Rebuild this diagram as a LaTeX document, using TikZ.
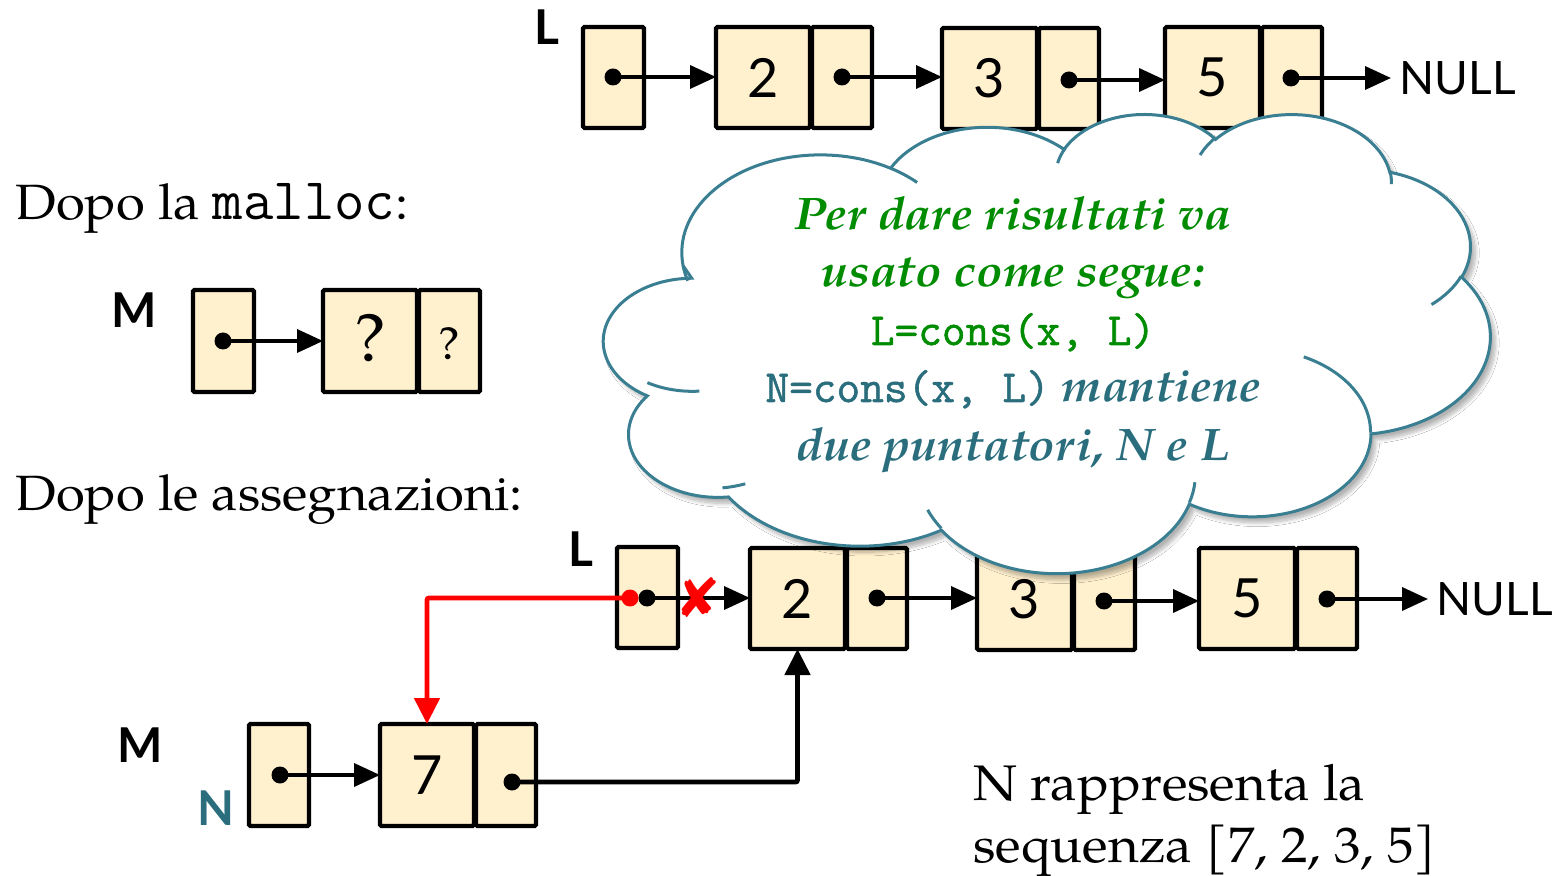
\documentclass[tikz,border=0pt]{standalone}
\usepackage{fontspec}
\setmainfont{TeX Gyre Pagella}[FakeStretch=1.06]
\newfontfamily\labfont{Lato}
\newfontfamily\symfont{DejaVu Sans}
\newfontfamily\cloudtt{Latin Modern Mono}[FakeBold=1.2]
\usetikzlibrary{arrows.meta,shadows.blur}

\definecolor{cream}{RGB}{255,240,206}
\definecolor{cloudline}{RGB}{58,126,146}
\definecolor{tealtext}{RGB}{42,110,126}
\definecolor{greentext}{RGB}{0,140,0}

% elliptical arc given as in DrawingML: radii, start angle and sweep measured
% as visual angles; converted here to the parametric angles TikZ expects
\newcommand\cloudcalc[4]{%
  \pgfmathsetmacro\ca{#1}\pgfmathsetmacro\cb{#2}%
  \pgfmathsetmacro\tA{atan2(\ca*sin(#3),\cb*cos(#3))}%
  \pgfmathsetmacro\tB{atan2(\ca*sin(#3+#4),\cb*cos(#3+#4))}%
  \pgfmathsetmacro\tD{#4+mod(\tB-\tA-#4+900,360)-180}%
  \global\let\gca\ca\global\let\gcb\cb\global\let\gtA\tA\global\let\gtD\tD}
\newcommand\carc[4]{\pgfextra{\cloudcalc{#1}{#2}{#3}{#4}} arc[start angle=\gtA, delta angle=\gtD, x radius=\gca, y radius=\gcb]}

% one cell of a list box: name, x1, y1, x2, y2, content
\newcommand\cell[6]{\node[cellbox, minimum width={(#4-#2)*0.5pt-1pt}, minimum height={(#5-#3)*0.5pt-1pt}] (#1) at ({(#2+#4)/2},{(#3+#5)/2}) {#6};}

\newcommand\cloudcodefont{\fontsize{23pt}{27pt}\selectfont\upshape\mdseries\cloudtt}

\tikzset{
  cellbox/.style={draw, line width=2.2pt, fill=cream, rounded corners=0.8pt, inner sep=0pt, outer sep=0pt,
    font=\labfont\fontsize{27pt}{30pt}\selectfont},
  ptrdot/.style={circle, fill=black, inner sep=0pt, minimum size=8.5pt},
  link/.style={line width=1.8pt, -{Triangle[length=13pt,width=11.5pt]}},
  bentlink/.style={line width=2.4pt, rounded corners=1pt, -{Triangle[length=13pt,width=12.5pt]}},
  varlabel/.style={font=\labfont\bfseries\fontsize{24pt}{28pt}\selectfont, inner sep=0pt},
  nulltext/.style={font=\labfont\fontsize{23pt}{27pt}\selectfont, inner sep=0pt, anchor=west},
  prose/.style={font=\fontsize{24.8pt}{29pt}\selectfont, inner sep=0pt, anchor=base west},
  prosebig/.style={font=\fontsize{25pt}{30pt}\selectfont, inner sep=0pt, anchor=base west},
  cloudtext/.style={inner sep=0pt, anchor=base, font=\fontsize{22.8pt}{27pt}\selectfont\bfseries\itshape},
  cloudshape/.style={line width=1.5pt, draw=cloudline, fill=white,
    blur shadow={shadow xshift=2.5pt, shadow yshift=-3pt, shadow blur steps=10, shadow opacity=30}},
  cloudinner/.style={line width=1.5pt, draw=cloudline},
}

\begin{document}
\begin{tikzpicture}[x=0.5pt,y=-0.5pt]
\useasboundingbox (0,0) rectangle (1567,876);
\fill[white] (0,0) rectangle (1567,876);

% ---------- list L (top) ----------
\cell{cLa}{582}{26}{645}{129}{}
\cell{c2av}{715}{26}{811}{129}{2}
\cell{c2ap}{811}{26}{873}{129}{}
\cell{c3av}{941}{27}{1038}{130}{3}
\cell{c3ap}{1038}{27}{1100}{130}{}
\cell{c5av}{1164}{26}{1261}{129}{5}
\cell{c5ap}{1261}{26}{1323}{129}{}
\node[varlabel] (labLa) at (547,27) {L};
\node[nulltext] (nullA) at (1399,78) {NULL};
\node[ptrdot] (dLa) at (613,77) {};
\node[ptrdot] (d2a) at (842,77) {};
\node[ptrdot] (d3a) at (1069,80) {};
\node[ptrdot] (d5a) at (1291,78) {};
\draw[link] (dLa.center) -- (dLa -| c2av.west);
\draw[link] (d2a.center) -- (d2a -| c3av.west);
\draw[link] (d3a.center) -- (d3a -| c5av.west);
\draw[link] (d5a.center) -- ([xshift=-4pt]nullA.west |- d5a);

% ---------- after malloc ----------
\node[prose] (txtMalloc) at (15,220) {Dopo la {\fontsize{29.5pt}{31pt}\selectfont\ttfamily malloc}:};
\node[varlabel] (labMa) at (134,310) {M};
\cell{cMa}{192}{289}{255}{393}{}
\cell{cQv}{322}{289}{418}{393}{}
\cell{cQp}{418}{289}{481}{393}{}
\node[inner sep=0pt, font=\fontsize{34pt}{38pt}\selectfont] (q1) at (370,338) {?};
\node[inner sep=0pt, font=\fontsize{23pt}{27pt}\selectfont] (q2) at (449,344) {?};
\node[ptrdot] (dM) at (223,341) {};
\draw[link] (dM.center) -- (dM -| cQv.west);

% ---------- after the assignments ----------
\node[prose] (txtAssign) at (15,510) {Dopo le assegnazioni:};

\cell{cLb}{616}{546}{679}{649}{}
\cell{c2bv}{749}{547}{846}{650}{2}
\cell{c2bp}{846}{547}{908}{650}{}
\cell{c3bv}{976}{547}{1073}{651}{3}
\cell{c3bp}{1073}{547}{1136}{651}{}
\cell{c5bv}{1198}{547}{1296}{650}{5}
\cell{c5bp}{1296}{547}{1358}{650}{}
\node[varlabel] (labLb) at (581,549) {L};
\node[nulltext] (nullB) at (1436,599) {NULL};

\node[varlabel] (labMb) at (140,745) {M};
\node[varlabel, text=tealtext] (labN) at (216,808) {N};
\cell{cN}{248}{723}{310}{827}{}
\cell{c7v}{379}{723}{475}{827}{7}
\cell{c7p}{475}{723}{537}{827}{}

\node[ptrdot] (dLb) at (647,598) {};
\node[ptrdot] (d2b) at (877,598) {};
\node[ptrdot] (d3b) at (1104,601) {};
\node[ptrdot] (d5b) at (1327,599) {};
\node[ptrdot] (dN) at (280,775) {};
\node[ptrdot] (d7) at (512,782) {};
\draw[link] (dLb.center) -- (dLb -| c2bv.west);
\draw[link] (d2b.center) -- (d2b -| c3bv.west);
\draw[link] (d3b.center) -- (d3b -| c5bv.west);
\draw[link] (d5b.center) -- ([xshift=-4pt]nullB.west |- d5b);
\draw[link] (dN.center) -- (dN -| c7v.west);

% new node linked in front of the list
\draw[bentlink] (d7.center) -| (c2bv.south);
\node[ptrdot, fill=red] (rdot) at (630,598) {};
\draw[bentlink, draw=red] (rdot.center) -| (c7v.north);
\node[inner sep=0pt, text=red, font=\symfont\fontsize{27pt}{30pt}\selectfont] (cut) at (698,598) {✘};

% ---------- cloud callout ----------
\begin{scope}[shift={(301.5pt,-56.5pt)}, x=1.02662pt, y=-0.53125pt]
\draw[cloudshape] (39.00,143.70)
  \carc{67.53}{91.90}{-190.48748}{123.78053}
  \carc{53.33}{72.67}{-144.10238}{89.94523}
  \carc{43.65}{59.45}{-145.80792}{99.72302}
  \carc{48.57}{65.95}{-130.98607}{117.24173}
  \carc{53.33}{72.73}{-78.70888}{109.02692}
  \carc{67.75}{92.20}{-46.26725}{130.26900}
  \carc{57.85}{78.67}{0.62502}{114.03333}
  \carc{67.52}{92.15}{22.45160}{115.17255}
  \carc{77.20}{105.43}{66.24263}{71.01972}
  \carc{43.60}{59.18}{-274.94208}{141.50248}
  \carc{43.45}{59.45}{-246.82850}{156.48422}
  -- cycle;
\draw[cloudinner] (46.93,261.77) \carc{43.45}{59.45}{86.74200}{26.42950};
\draw[cloudinner] (69.28,348.99) \carc{43.60}{59.18}{73.61047}{11.44747};
\draw[cloudinner] (164.78,390.90) \carc{67.52}{92.15}{137.62415}{14.08110};
\draw[cloudinner] (288.27,347.51) \carc{67.52}{92.15}{6.45327}{15.99835};
\draw[cloudinner] (341.29,229.54) \carc{57.85}{78.67}{-70.29235}{70.91737};
\draw[cloudinner] (417.98,153.54) \carc{53.33}{72.73}{30.31803}{27.75150};
\draw[cloudinner] (383.24,54.26) \carc{48.57}{65.95}{-13.74433}{14.85890};
\draw[cloudinner] (290.78,39.52) \carc{48.57}{65.95}{-149.18145}{18.19537};
\draw[cloudinner] (221.41,47.20) \carc{43.65}{59.45}{-163.49427}{17.68635};
\draw[cloudinner] (140.00,51.92) \carc{67.53}{91.90}{-66.70695}{12.31935};
\draw[cloudinner] (41.27,157.89) \carc{67.53}{91.90}{157.65435}{11.85817};
\end{scope}

\node[cloudtext, text=greentext] (cl1) at (1013,230) {Per dare risultati va};
\node[cloudtext, text=greentext] (cl2) at (1013,287) {usato come segue:};
\node[cloudtext, text=greentext] (cl3) at (1013,345) {\cloudcodefont L=cons(x, L)};
\node[cloudtext, text=tealtext] (cl4) at (1013,402) {{\cloudcodefont N=cons(x, L)} mantiene};
\node[cloudtext, text=tealtext] (cl5) at (1013,460) {due puntatori, N e L};

% ---------- closing remark ----------
\node[prosebig] (rem1) at (973,800) {N rappresenta la};
\node[prosebig] (rem2) at (973,862) {sequenza [7, 2, 3, 5]};
\end{tikzpicture}
\end{document}
